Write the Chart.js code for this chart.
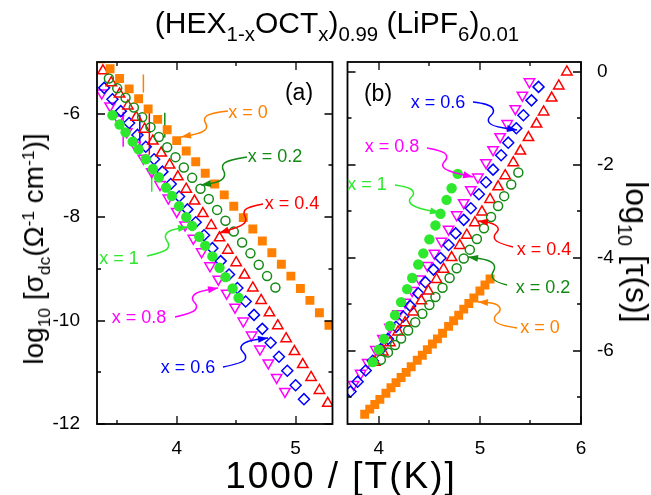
<!DOCTYPE html>
<html>
<head>
<meta charset="utf-8">
<script src="https://cdn.jsdelivr.net/npm/chart.js@4"></script>
<style>
body { margin: 0; background: #fff; width: 651px; height: 495px; position: relative; overflow: hidden; font-family: 'Liberation Sans', Arial, sans-serif; }
canvas { position: absolute; top: 0; }
.t { position: absolute; white-space: nowrap; line-height: 1; color: #000; }
.t sub { font-size: 0.68em; vertical-align: -0.4em; line-height: 0; }
.t sup { font-size: 0.68em; vertical-align: 0.5em; line-height: 0; }
.ax sub, .ax sup { font-size: 0.62em; }
.rot { transform: translate(-50%, -50%) rotate(-90deg); }
.rot2 { transform: translate(-50%, -50%) rotate(90deg); }
</style>
</head>
<body>
<canvas id="chartA" width="340" height="495" style="left:0"></canvas>
<canvas id="chartB" width="311" height="495" style="left:340px"></canvas>

<div class="t" style="left:0;width:674px;top:8px;text-align:center;font-size:30px">(HEX<sub>1-x</sub>OCT<sub>x</sub>)<sub>0.99</sub> (LiPF<sub>6</sub>)<sub>0.01</sub></div>
<div class="t" style="left:0;width:682px;top:457px;text-align:center;font-size:37px;letter-spacing:2px">1000 / [T(K)]</div>
<div class="t ax rot" style="left:34px;top:249px;font-size:28px">log<sub>10</sub> [σ<sub>dc</sub>(Ω<sup>-1</sup> cm<sup>-1</sup>)]</div>
<div class="t ax rot2" style="left:637px;top:252px;font-size:32px">log<sub>10</sub> [τ(s)]</div>

<script>
// series labels and colours
const seriesNames = ['x = 0', 'x = 0.2', 'x = 0.4', 'x = 0.6', 'x = 0.8', 'x = 1'];
const seriesColors = ['#ff8000', '#138a13', '#ff0000', '#0000ff', '#ff00ff', '#2ee82e'];

// axis ticks
const xTicksA = [4, 5], xMinorA = [3.5, 4.5];
const yTicksA = [-12, -10, -8, -6], yMinorA = [-11, -9, -7];
const xTicksB = [4, 5, 6], xMinorB = [4.5, 5.5];
const yTicksB = [-6, -4, -2, 0], yMinorB = [-7, -5, -3, -1];

// (a) log10 sigma_dc vs 1000/T
const sigT_x0 = [3.36,3.44,3.52,3.60,3.68,3.76,3.84,3.92,4.00,4.08,4.16,4.24,4.32,4.40,4.48,4.56,4.64,4.72,4.80,4.88,4.96,5.04,5.12,5.20,5.28];
const sig_x0 = [-4.94,-5.13,-5.32,-5.52,-5.71,-5.91,-6.11,-6.31,-6.52,-6.72,-6.93,-7.15,-7.36,-7.57,-7.79,-8.01,-8.23,-8.46,-8.69,-8.91,-9.14,-9.38,-9.61,-9.85,-10.09];
const sigT_x02 = [3.43,3.50,3.57,3.64,3.71,3.78,3.85,3.92,3.99,4.06,4.13,4.20,4.27,4.34,4.41,4.48,4.55,4.62,4.69,4.76,4.83];
const sig_x02 = [-5.32,-5.51,-5.69,-5.88,-6.07,-6.26,-6.45,-6.65,-6.84,-7.04,-7.24,-7.45,-7.65,-7.86,-8.07,-8.28,-8.49,-8.70,-8.92,-9.14,-9.36];
const sigT_x04 = [3.38,3.45,3.52,3.59,3.66,3.73,3.80,3.87,3.94,4.01,4.08,4.15,4.22,4.29,4.36,4.43,4.50,4.57,4.64,4.71,4.78,4.85,4.92,4.99,5.06,5.13,5.20,5.27];
const sig_x04 = [-5.17,-5.40,-5.62,-5.85,-6.07,-6.30,-6.53,-6.76,-6.99,-7.22,-7.46,-7.69,-7.93,-8.16,-8.40,-8.64,-8.88,-9.12,-9.37,-9.61,-9.85,-10.10,-10.35,-10.60,-10.85,-11.10,-11.35,-11.60];
const sigT_x06 = [3.39,3.46,3.53,3.60,3.67,3.74,3.81,3.88,3.95,4.02,4.09,4.16,4.23,4.30,4.37,4.44,4.51,4.58,4.65,4.72,4.79,4.86,4.93,5.00,5.07];
const sig_x06 = [-5.50,-5.72,-5.95,-6.18,-6.41,-6.64,-6.88,-7.12,-7.36,-7.60,-7.85,-8.10,-8.35,-8.60,-8.85,-9.11,-9.37,-9.63,-9.89,-10.16,-10.43,-10.70,-10.97,-11.25,-11.52];
const sigT_x08 = [3.37,3.44,3.51,3.58,3.65,3.72,3.79,3.86,3.93,4.00,4.07,4.14,4.21,4.28,4.35,4.42,4.49,4.56,4.63,4.70,4.77,4.84,4.91];
const sig_x08 = [-5.60,-5.85,-6.10,-6.35,-6.61,-6.86,-7.12,-7.37,-7.63,-7.89,-8.15,-8.41,-8.67,-8.94,-9.20,-9.47,-9.74,-10.01,-10.28,-10.55,-10.82,-11.10,-11.37];
const sigT_x1 = [3.46,3.52,3.57,3.63,3.68,3.74,3.80,3.85,3.91,3.96,4.02,4.08,4.13,4.19,4.24,4.30,4.36,4.41,4.47,4.52];
const sig_x1 = [-6.03,-6.21,-6.36,-6.54,-6.69,-6.88,-7.07,-7.23,-7.43,-7.59,-7.79,-8.00,-8.17,-8.38,-8.55,-8.76,-8.98,-9.16,-9.38,-9.56];

// (a) vertical jumps, one per series
const jumpT = [3.72, 3.90, 3.77, 3.69, 3.55, 3.79];
const jumpHi = [-5.24, -5.98, -5.92, -6.02, -5.96, -7.03];
const jumpLo = [-5.59, -6.46, -6.79, -6.79, -6.64, -7.51];

// (b) log10 tau vs 1000/T
const tauT_x0 = [3.86,3.91,3.96,4.01,4.07,4.12,4.17,4.22,4.27,4.32,4.38,4.43,4.48,4.53,4.58,4.63,4.69,4.74,4.79,4.84,4.89,4.94,5.00,5.05,5.10];
const tau_x0 = [-7.36,-7.25,-7.15,-7.04,-6.91,-6.79,-6.68,-6.57,-6.46,-6.34,-6.20,-6.09,-5.97,-5.85,-5.74,-5.62,-5.47,-5.35,-5.23,-5.10,-4.98,-4.86,-4.71,-4.58,-4.45];
const tauT_x02 = [4.02,4.09,4.16,4.22,4.29,4.36,4.43,4.50,4.56,4.63,4.70,4.77,4.84,4.90,4.97,5.04,5.11,5.18,5.24,5.31,5.38];
const tau_x02 = [-6.19,-6.03,-5.87,-5.73,-5.56,-5.38,-5.20,-5.01,-4.84,-4.64,-4.43,-4.22,-4.01,-3.82,-3.59,-3.36,-3.12,-2.88,-2.67,-2.42,-2.16];
const tauT_x04 = [3.96,4.04,4.11,4.19,4.26,4.34,4.42,4.49,4.57,4.64,4.72,4.80,4.87,4.95,5.02,5.10,5.18,5.25,5.33,5.40,5.48,5.56,5.63,5.71,5.78,5.86];
const tau_x04 = [-6.24,-6.02,-5.82,-5.59,-5.39,-5.16,-4.92,-4.71,-4.46,-4.24,-3.99,-3.73,-3.51,-3.24,-3.01,-2.74,-2.47,-2.23,-1.95,-1.70,-1.41,-1.12,-0.86,-0.56,-0.30,0.00];
const tauT_x06 = [3.72,3.79,3.87,3.94,4.02,4.09,4.17,4.24,4.31,4.39,4.46,4.54,4.61,4.69,4.76,4.84,4.91,4.99,5.06,5.13,5.21,5.28,5.36,5.43,5.51,5.58];
const tau_x06 = [-6.87,-6.66,-6.42,-6.21,-5.96,-5.74,-5.48,-5.26,-5.03,-4.76,-4.52,-4.25,-4.00,-3.72,-3.47,-3.18,-2.93,-2.63,-2.37,-2.10,-1.79,-1.52,-1.21,-0.93,-0.61,-0.32];
const tauT_x08 = [3.75,3.82,3.89,3.97,4.04,4.11,4.19,4.26,4.33,4.40,4.48,4.55,4.62,4.69,4.77,4.84,4.91,4.98,5.06,5.13,5.20,5.27,5.35,5.42,5.49];
const tau_x08 = [-6.72,-6.48,-6.25,-5.97,-5.73,-5.49,-5.20,-4.95,-4.70,-4.45,-4.16,-3.90,-3.64,-3.38,-3.07,-2.81,-2.53,-2.26,-1.95,-1.67,-1.39,-1.11,-0.79,-0.50,-0.21];
const tauT_x1 = [3.94,4.00,4.05,4.11,4.16,4.22,4.28,4.33,4.39,4.44,4.50,4.56,4.61,4.67,4.72,4.78];
const tau_x1 = [-6.24,-5.97,-5.74,-5.46,-5.23,-4.95,-4.67,-4.43,-4.14,-3.90,-3.60,-3.30,-3.05,-2.75,-2.50,-2.19];

const font = 'Liberation Sans';

function pts(xs, ys) {
  return xs.map((x, i) => ({ x: x, y: ys[i] }));
}

// marker look per series index
function markerDs(i, xs, ys) {
  let c = seriesColors[i];
  let d = { label: seriesNames[i], data: pts(xs, ys), borderColor: c, pointBorderWidth: 1.5, clip: 0 };
  if (i == 0) Object.assign(d, { pointStyle: 'rect', pointRadius: 6.3, backgroundColor: c, pointBorderWidth: 0 });
  if (i == 1) Object.assign(d, { pointStyle: 'circle', pointRadius: 4.5, backgroundColor: 'transparent' });
  if (i == 2) Object.assign(d, { pointStyle: 'triangle', pointRadius: 6, backgroundColor: 'transparent' });
  if (i == 3) Object.assign(d, { pointStyle: 'rectRot', pointRadius: 5.5, backgroundColor: 'transparent' });
  if (i == 4) Object.assign(d, { pointStyle: 'triangle', rotation: 180, pointRadius: 6, backgroundColor: 'transparent' });
  if (i == 5) Object.assign(d, { pointStyle: 'circle', pointRadius: 5.2, backgroundColor: c, pointBorderWidth: 0 });
  return d;
}

function frame(xMaj, xMin, yMaj, yMin) {
  return {
    id: 'frame',
    afterDatasetsDraw(chart) {
      const ctx = chart.ctx, a = chart.chartArea, xs = chart.scales.x, ys = chart.scales.y;
      ctx.save();
      ctx.strokeStyle = '#000';
      ctx.lineWidth = 1.8;
      ctx.strokeRect(a.left, a.top, a.right - a.left, a.bottom - a.top);
      ctx.lineWidth = 1.3;
      ctx.beginPath();
      const tick = (vals, len, isX) => vals.forEach(v => {
        if (isX) {
          const p = Math.round(xs.getPixelForValue(v));
          ctx.moveTo(p, a.bottom); ctx.lineTo(p, a.bottom - len);
          ctx.moveTo(p, a.top); ctx.lineTo(p, a.top + len);
        } else {
          const p = Math.round(ys.getPixelForValue(v));
          ctx.moveTo(a.left, p); ctx.lineTo(a.left + len, p);
          ctx.moveTo(a.right, p); ctx.lineTo(a.right - len, p);
        }
      });
      tick(xMaj, 8, true); tick(xMin, 4, true);
      tick(yMaj, 8, false); tick(yMin, 4, false);
      ctx.stroke();
      ctx.restore();
    }
  };
}

// curly arrows with labels, page pixel coords
function notes(offset, panel, list) {
  return {
    id: 'notes',
    afterDraw(chart) {
      const ctx = chart.ctx;
      ctx.save();
      ctx.translate(-offset, 0);
      ctx.textAlign = 'center';
      ctx.textBaseline = 'middle';
      ctx.fillStyle = '#000';
      ctx.font = '23px "' + font + '"';
      ctx.fillText(panel[0], panel[1], panel[2]);
      ctx.font = '18px "' + font + '"';
      list.forEach(n => {
        const c = seriesColors[n.s];
        ctx.fillStyle = c; ctx.strokeStyle = c; ctx.lineWidth = 1.5;
        ctx.fillText(seriesNames[n.s], n.tx, n.ty);
        const p = n.path;
        ctx.beginPath();
        ctx.moveTo(p[0][0], p[0][1]);
        for (let i = 1; i < p.length - 1; i++) {
          ctx.quadraticCurveTo(p[i][0], p[i][1], (p[i][0] + p[i + 1][0]) / 2, (p[i][1] + p[i + 1][1]) / 2);
        }
        const e = p[p.length - 1], q = p[p.length - 2];
        ctx.lineTo(e[0], e[1]);
        ctx.stroke();
        const ang = Math.atan2(e[1] - q[1], e[0] - q[0]);
        const bx = e[0] - 10 * Math.cos(ang), by = e[1] - 10 * Math.sin(ang);
        ctx.beginPath();
        ctx.moveTo(e[0], e[1]);
        ctx.lineTo(bx + 3.5 * Math.sin(ang), by - 3.5 * Math.cos(ang));
        ctx.lineTo(bx - 3.5 * Math.sin(ang), by + 3.5 * Math.cos(ang));
        ctx.closePath();
        ctx.fill();
      });
      ctx.restore();
    }
  };
}

function tickSet(vals) {
  return s => { s.ticks = vals.map(v => ({ value: v })); };
}

const tickFont = { family: font, size: 19 };

// panel (a)
let dsA = [
  markerDs(0, sigT_x0, sig_x0),
  markerDs(5, sigT_x1, sig_x1),
  markerDs(1, sigT_x02, sig_x02),
  markerDs(2, sigT_x04, sig_x04),
  markerDs(3, sigT_x06, sig_x06),
  markerDs(4, sigT_x08, sig_x08)
];
jumpT.forEach((t, i) => {
  dsA.push({ label: seriesNames[i] + ' jump', data: [{ x: t, y: jumpHi[i] }, { x: t, y: jumpLo[i] }],
    showLine: true, borderColor: seriesColors[i], borderWidth: 1.5, pointRadius: 0, clip: 0 });
});

new Chart(document.getElementById('chartA'), {
  type: 'scatter',
  data: { datasets: dsA },
  options: {
    responsive: false,
    animation: false,
    layout: { padding: { top: 62, right: 7, left: 0, bottom: 0 } },
    plugins: { legend: { display: false }, tooltip: { enabled: false } },
    scales: {
      x: {
        min: 3.33, max: 5.31,
        afterBuildTicks: tickSet(xTicksA),
        afterFit: s => { s.height = 71; },
        grid: { display: false }, border: { display: false },
        ticks: { font: tickFont, color: '#000', padding: 5, maxRotation: 0 }
      },
      y: {
        min: -12, max: -5,
        afterBuildTicks: tickSet(yTicksA),
        afterFit: s => { s.width = 97; },
        grid: { display: false }, border: { display: false },
        ticks: { font: tickFont, color: '#000', padding: 9 }
      }
    }
  },
  plugins: [
    frame(xTicksA, xMinorA, yTicksA, yMinorA),
    notes(0, ['(a)', 299, 94], [
      { s: 0, tx: 248, ty: 113, path: [[228, 111], [210, 113], [203, 119], [208, 127], [202, 133], [181, 137]] },
      { s: 1, tx: 275, ty: 157, path: [[247, 157], [228, 160], [221, 166], [226, 175], [220, 182], [201, 185]] },
      { s: 2, tx: 292, ty: 204, path: [[263, 204], [247, 207], [243, 213], [247, 220], [242, 226], [219, 233]] },
      { s: 5, tx: 119, ty: 259, path: [[147, 256], [165, 252], [170, 245], [164, 237], [169, 230], [188, 227]] },
      { s: 4, tx: 139, ty: 318, path: [[175, 317], [193, 313], [198, 306], [191, 299], [196, 292], [218, 288]] },
      { s: 3, tx: 188, ty: 368, path: [[223, 367], [243, 363], [247, 356], [239, 348], [246, 341], [268, 338]] }
    ])
  ]
});

// panel (b)
new Chart(document.getElementById('chartB'), {
  type: 'scatter',
  data: {
    datasets: [
      markerDs(0, tauT_x0, tau_x0),
      markerDs(5, tauT_x1, tau_x1),
      markerDs(1, tauT_x02, tau_x02),
      markerDs(2, tauT_x04, tau_x04),
      markerDs(3, tauT_x06, tau_x06),
      markerDs(4, tauT_x08, tau_x08)
    ]
  },
  options: {
    responsive: false,
    animation: false,
    layout: { padding: { top: 62, right: 0, left: 4, bottom: 0 } },
    plugins: { legend: { display: false }, tooltip: { enabled: false } },
    scales: {
      x: {
        min: 3.69, max: 6,
        afterBuildTicks: tickSet(xTicksB),
        afterFit: s => { s.height = 71; },
        grid: { display: false }, border: { display: false },
        ticks: { font: tickFont, color: '#000', padding: 5, maxRotation: 0 }
      },
      y: {
        position: 'right',
        min: -7.57, max: 0.215,
        afterBuildTicks: tickSet(yTicksB),
        afterFit: s => { s.width = 70; },
        grid: { display: false }, border: { display: false },
        ticks: { font: tickFont, color: '#000', padding: 8 }
      }
    }
  },
  plugins: [
    frame(xTicksB, xMinorB, yTicksB, yMinorB),
    notes(340, ['(b)', 378, 95], [
      { s: 3, tx: 438, ty: 103, path: [[473, 102], [490, 104], [495, 112], [487, 119], [491, 126], [517, 130]] },
      { s: 4, tx: 392, ty: 147, path: [[427, 148], [444, 151], [448, 158], [441, 165], [447, 171], [473, 177]] },
      { s: 5, tx: 367, ty: 185, path: [[395, 185], [410, 187], [415, 194], [408, 200], [413, 207], [440, 213]] },
      { s: 2, tx: 544, ty: 250, path: [[513, 247], [497, 243], [493, 236], [500, 229], [493, 223], [478, 221]] },
      { s: 1, tx: 543, ty: 288, path: [[507, 285], [495, 282], [491, 275], [496, 267], [490, 260], [468, 257]] },
      { s: 0, tx: 540, ty: 328, path: [[517, 328], [497, 325], [493, 317], [502, 310], [496, 303], [478, 302]] }
    ])
  ]
});
</script>
</body>
</html>
